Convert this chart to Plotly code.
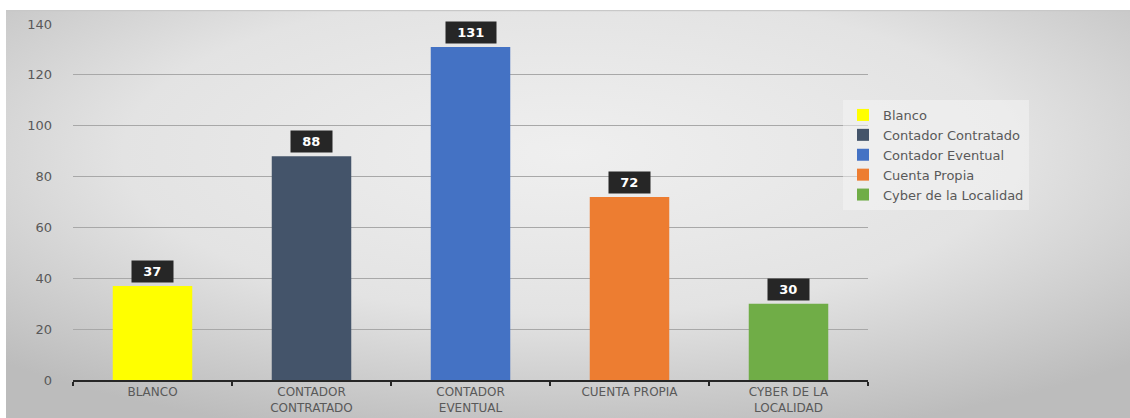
import base64
import plotly.graph_objects as go

categories = ["Blanco", "Contador Contratado", "Contador Eventual", "Cuenta Propia", "Cyber de la Localidad"]
tick_labels = ["BLANCO", "CONTADOR<br>CONTRATADO", "CONTADOR<br>EVENTUAL", "CUENTA PROPIA", "CYBER DE LA<br>LOCALIDAD"]
values = [37, 88, 131, 72, 30]
colors = ["#FFFF00", "#44546A", "#4472C4", "#ED7D31", "#70AD47"]
y_ticks = [0, 20, 40, 60, 80, 100, 120, 140]

W, H = 1130, 418
ML, MR, MT, MB = 73, 262, 24, 38
FONT = "DejaVu Sans"
BG_X0, BG_Y0 = 6, 10

svg = (
    "<svg xmlns='http://www.w3.org/2000/svg' width='1124' height='408'>"
    "<defs><radialGradient id='g' cx='0.5' cy='0.35' r='0.72'>"
    "<stop offset='0' stop-color='#efefef'/>"
    "<stop offset='0.55' stop-color='#e3e3e3'/>"
    "<stop offset='1' stop-color='#bcbcbc'/>"
    "</radialGradient></defs>"
    "<rect width='1124' height='408' fill='url(#g)'/>"
    "<rect width='1124' height='1.2' fill='#c8c8c8'/></svg>"
)
bg_src = "data:image/svg+xml;base64," + base64.b64encode(svg.encode()).decode()

fig = go.Figure()
for name, v, c in zip(categories, values, colors):
    fig.add_trace(go.Bar(
        x=[name], y=[v], name=name, legendgroup=name,
        marker=dict(color=c, line=dict(width=0)),
        width=0.5, hoverinfo="x+y",
    ))

for name, v in zip(categories, values):
    fig.add_annotation(
        x=name, y=v, text="&nbsp;&nbsp;<b>%d</b>&nbsp;&nbsp;" % v, showarrow=False,
        yanchor="bottom", yshift=3,
        font=dict(family=FONT, size=13, color="#ffffff"),
        bgcolor="#262626", borderpad=3,
    )

pw = W - ML - MR
ph = H - MT - MB
fig.add_layout_image(dict(
    source=bg_src, xref="paper", yref="paper",
    x=(BG_X0 - ML) / pw, y=1 + (MT - BG_Y0) / ph,
    sizex=(W - BG_X0) / pw, sizey=(H - BG_Y0) / ph,
    xanchor="left", yanchor="top", sizing="stretch", layer="below",
))

fig.update_layout(
    width=W, height=H,
    margin=dict(l=ML, r=MR, t=MT, b=MB, pad=0, autoexpand=False),
    paper_bgcolor="#ffffff", plot_bgcolor="rgba(0,0,0,0)",
    barmode="overlay", bargap=0.5,
    font=dict(family=FONT, color="#595959", size=12),
    showlegend=True,
    legend=dict(
        xref="paper", yref="paper",
        x=(843 - ML) / pw, y=1 - (100 - MT) / ph,
        xanchor="left", yanchor="top",
        bgcolor="rgba(245,245,245,0.5)", borderwidth=0,
        font=dict(family=FONT, size=13, color="#595959"),
        itemwidth=30, tracegroupgap=3, traceorder="normal",
    ),
    xaxis=dict(
        categoryorder="array", categoryarray=categories,
        tickvals=categories, ticktext=tick_labels,
        range=[-0.5, len(categories) - 0.5],
        showline=True, linecolor="#262626", linewidth=2,
        ticks="outside", tickson="boundaries", ticklen=4, tickcolor="#262626", tickwidth=2,
        showgrid=False, zeroline=False, fixedrange=True, automargin=False,
        tickfont=dict(family=FONT, size=12, color="#595959"),
    ),
    yaxis=dict(
        range=[0, 140], tickvals=y_ticks,
        showgrid=True, gridcolor="#a8a8a8", gridwidth=1,
        showline=False, zeroline=False, ticks="", automargin=False,
        ticklabelstandoff=20, fixedrange=True,
        tickfont=dict(family=FONT, size=13, color="#595959"),
    ),
)

fig.write_html(
    "out.html",
    config={"displayModeBar": False},
    post_script="document.body.style.margin='0';document.body.style.overflow='hidden';",
)
